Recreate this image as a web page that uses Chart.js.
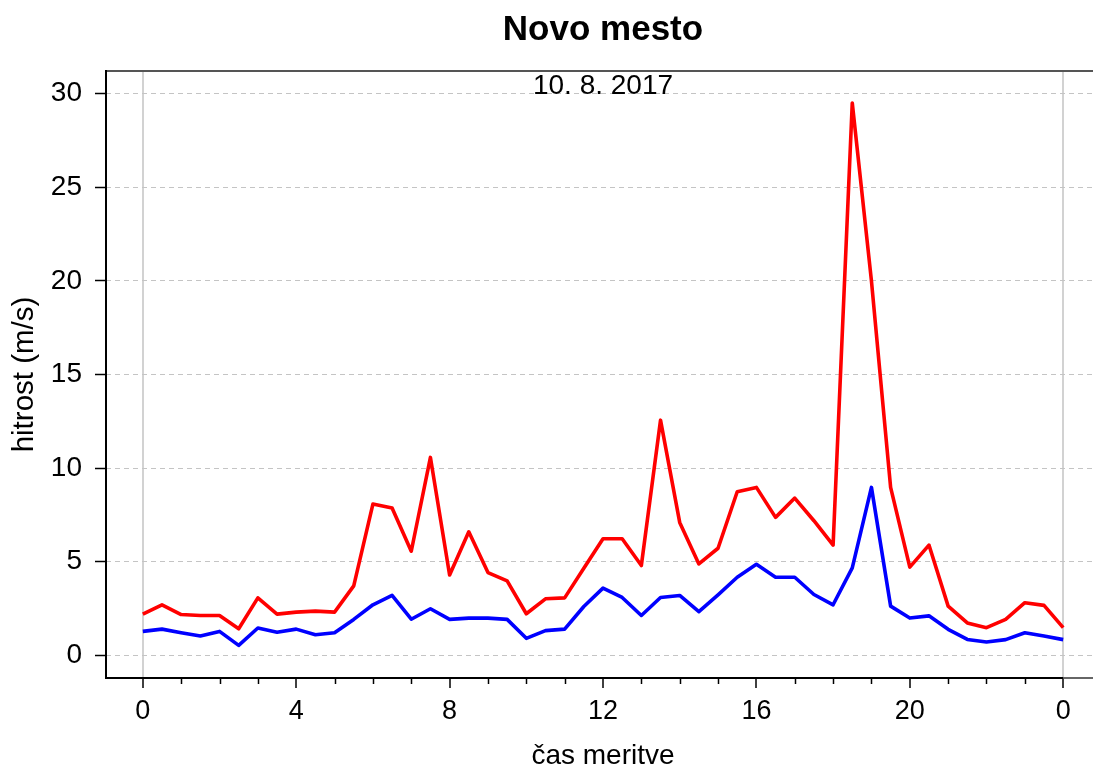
<!DOCTYPE html>
<html>
<head>
<meta charset="utf-8">
<script src="https://cdn.jsdelivr.net/npm/chart.js@4.4.0/dist/chart.umd.min.js"></script>
<style>
  html, body { margin: 0; padding: 0; background: #fff; overflow: hidden; }
  canvas { display: block; }
</style>
</head>
<body>
<canvas id="wind" width="1100" height="771"></canvas>
<script>
// Wind speed at Novo mesto, half-hourly measurements over one day
const chartTitle = 'Novo mesto';
const dateLabel = '10. 8. 2017';
const xAxisTitle = 'čas meritve';
const yAxisTitle = 'hitrost (m/s)';

const hours = [
  0, 0.5, 1, 1.5, 2, 2.5, 3, 3.5, 4, 4.5, 5, 5.5, 6, 6.5, 7, 7.5, 8,
  8.5, 9, 9.5, 10, 10.5, 11, 11.5, 12, 12.5, 13, 13.5, 14, 14.5, 15, 15.5, 16,
  16.5, 17, 17.5, 18, 18.5, 19, 19.5, 20, 20.5, 21, 21.5, 22, 22.5, 23, 23.5, 24
];

// maximum gust (m/s)
const gustSpeed = [
  2.2, 2.7, 2.18, 2.13, 2.13, 1.42, 3.07, 2.2, 2.31, 2.36, 2.31, 3.71, 8.08, 7.87, 5.56, 10.57, 4.29,
  6.6, 4.42, 3.98, 2.22, 3.02, 3.07, 4.65, 6.23, 6.23, 4.8, 12.56, 7.1, 4.88, 5.72, 8.74, 8.97,
  7.37, 8.4, 7.19, 5.89, 29.5, 20.0, 8.97, 4.71, 5.89, 2.63, 1.73, 1.48, 1.92, 2.81, 2.67, 1.48
];

// mean wind speed (m/s)
const meanSpeed = [
  1.28, 1.4, 1.21, 1.03, 1.28, 0.53, 1.46, 1.23, 1.4, 1.1, 1.21, 1.92, 2.7, 3.2, 1.93, 2.49, 1.92,
  1.99, 1.99, 1.92, 0.91, 1.32, 1.4, 2.61, 3.59, 3.09, 2.13, 3.09, 3.2, 2.33, 3.23, 4.17, 4.86,
  4.17, 4.17, 3.25, 2.7, 4.67, 8.97, 2.63, 1.99, 2.11, 1.39, 0.85, 0.71, 0.84, 1.21, 1.03, 0.84
];

const xTickHours = [0, 1, 2, 3, 4, 5, 6, 7, 8, 9, 10, 11, 12, 13, 14, 15, 16, 17, 18, 19, 20, 21, 22, 23, 24];
const xLabelHours = [0, 4, 8, 12, 16, 20, 24];
const xGridHours = [0, 24];
const yTickValues = [0, 5, 10, 15, 20, 25, 30];

const FONT = '"Liberation Sans", Arial, Helvetica, sans-serif';

const toPoints = vals => hours.map((h, i) => ({ x: h, y: vals[i] }));

// Title, date, minor hour ticks and the plot frame
const decor = {
  id: 'decor',
  afterDraw(chart) {
    const { ctx, chartArea: a, scales: { x } } = chart;
    const cx = (a.left + a.right) / 2;
    ctx.save();

    // minor (hourly) tick marks
    ctx.strokeStyle = '#000';
    ctx.lineWidth = 1.5;
    xTickHours.filter(h => !xLabelHours.includes(h)).forEach(h => {
      const px = Math.round(x.getPixelForValue(h)) + 0.5;
      ctx.beginPath();
      ctx.moveTo(px, a.bottom);
      ctx.lineTo(px, a.bottom + 6);
      ctx.stroke();
    });

    // frame
    ctx.lineWidth = 2;
    ctx.strokeStyle = '#555';
    ctx.beginPath();
    ctx.moveTo(a.left, a.top);
    ctx.lineTo(a.right, a.top);
    ctx.stroke();
    const xEnd = x.getPixelForValue(24);
    ctx.strokeStyle = '#666';
    ctx.beginPath();
    ctx.moveTo(xEnd, a.bottom);
    ctx.lineTo(a.right, a.bottom);
    ctx.stroke();
    ctx.strokeStyle = '#000';
    ctx.beginPath();
    ctx.moveTo(a.left, a.top - 1);
    ctx.lineTo(a.left, a.bottom);
    ctx.lineTo(xEnd, a.bottom);
    ctx.stroke();

    // texts
    ctx.fillStyle = '#000';
    ctx.textAlign = 'center';
    ctx.textBaseline = 'alphabetic';
    ctx.font = 'bold 35px ' + FONT;
    ctx.fillText(chartTitle, cx, a.top - 31);
    ctx.font = '28px ' + FONT;
    ctx.fillText(dateLabel, cx, a.top + 22.5);
    ctx.restore();
  }
};

new Chart(document.getElementById('wind'), {
  type: 'line',
  data: {
    datasets: [
      {
        label: 'povprečna hitrost',
        data: toPoints(meanSpeed),
        borderColor: '#0000ff',
        borderWidth: 3.6,
        pointRadius: 0,
        tension: 0,
        borderJoinStyle: 'round',
        borderCapStyle: 'butt',
        order: 0
      },
      {
        label: 'sunki',
        data: toPoints(gustSpeed),
        borderColor: '#ff0000',
        borderWidth: 3.6,
        pointRadius: 0,
        tension: 0,
        borderJoinStyle: 'round',
        borderCapStyle: 'butt',
        order: 1
      }
    ]
  },
  options: {
    responsive: false,
    animation: false,
    devicePixelRatio: 1,
    layout: { padding: { top: 71, left: 0, right: 0, bottom: 0 } },
    plugins: {
      legend: { display: false },
      tooltip: { enabled: false },
      title: { display: false }
    },
    scales: {
      x: {
        type: 'linear',
        min: -0.96,
        max: 24.96,
        afterBuildTicks: s => { s.ticks = xTickHours.map(v => ({ value: v })); },
        afterFit: s => { s.height = 93; },
        ticks: {
          autoSkip: false,
          maxRotation: 0,
          padding: 7,
          color: '#000',
          font: { family: FONT, size: 27 },
          callback: v => xLabelHours.includes(v) ? String(v % 24) : ''
        },
        grid: {
          color: c => (c.tick && xGridHours.includes(c.tick.value)) ? '#d2d2d2' : 'rgba(0,0,0,0)',
          lineWidth: 2,
          tickLength: 10,
          tickWidth: 1.5,
          tickColor: c => (c.tick && xLabelHours.includes(c.tick.value)) ? '#000' : 'rgba(0,0,0,0)'
        },
        border: { display: false },
        title: {
          display: true,
          text: xAxisTitle,
          color: '#000',
          font: { family: FONT, size: 28, lineHeight: 1 },
          padding: { top: 0, bottom: 1 }
        }
      },
      y: {
        type: 'linear',
        min: -1.21,
        max: 31.21,
        afterBuildTicks: s => { s.ticks = yTickValues.map(v => ({ value: v })); },
        afterFit: s => { s.width = 106; },
        ticks: {
          padding: 13,
          color: '#000',
          font: { family: FONT, size: 28 }
        },
        grid: {
          color: '#c4c4c4',
          lineWidth: 1,
          tickLength: 11,
          tickWidth: 1.5,
          tickColor: '#000'
        },
        border: { display: false, dash: [5, 4] },
        title: {
          display: true,
          text: yAxisTitle,
          color: '#000',
          font: { family: FONT, size: 29.5, lineHeight: 1.2 },
          padding: { top: 7.5, bottom: 0 }
        }
      }
    }
  },
  plugins: [decor]
});
</script>
</body>
</html>
